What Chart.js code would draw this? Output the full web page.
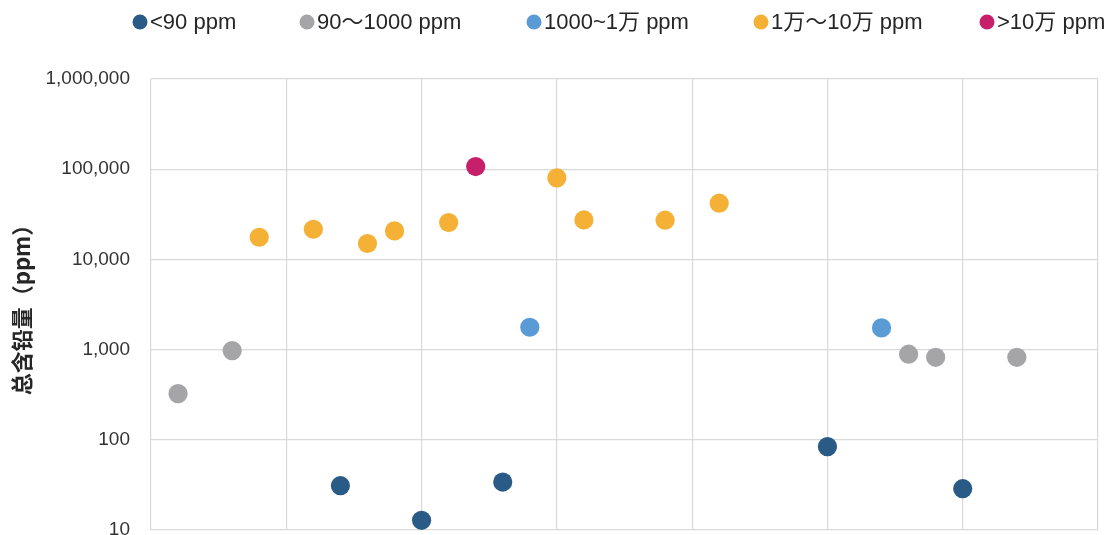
<!DOCTYPE html>
<html>
<head>
<meta charset="utf-8">
<title>总含铅量</title>
<script src="https://cdn.jsdelivr.net/npm/chart.js@4/dist/chart.umd.min.js"></script>
<style>
  html, body { margin: 0; padding: 0; background: #ffffff; }
  #wrap { width: 1111px; height: 535px; }
</style>
</head>
<body>
<div id="wrap"><canvas id="c" width="1111" height="535"></canvas></div>
<script>
// Sample numbers (x) and total lead content in ppm (y), grouped by concentration band
const seriesNames = ['<90 ppm', '90～1000 ppm', '1000~1万 ppm', '1万～10万 ppm', '>10万 ppm'];

const below90X = [7, 10, 13, 25, 30];
const below90Y = [31, 12.8, 34, 84, 28.7];

const from90X = [1, 3, 28, 29, 32];
const from90Y = [325, 975, 889, 822, 822];

const from1000X = [14, 27];
const from1000Y = [1770, 1740];

const from1wX = [4, 6, 8, 9, 11, 15, 16, 19, 21];
const from1wY = [17600, 21600, 15000, 20700, 25600, 80200, 27400, 27200, 42000];

const above10wX = [12];
const above10wY = [107000];

const yTickValues = [10, 100, 1000, 10000, 100000, 1000000];
const yTitle = '总含铅量（ppm）';

const seriesColors = ['#2a5a86', '#a5a5a8', '#5b9bd5', '#f4b135', '#c6206b'];

function toPoints(xs, ys) {
  return xs.map((x, i) => ({ x: x, y: ys[i] }));
}

const seriesX = [below90X, from90X, from1000X, from1wX, above10wX];
const seriesY = [below90Y, from90Y, from1000Y, from1wY, above10wY];

const datasets = seriesNames.map((name, i) => ({
  label: name,
  data: toPoints(seriesX[i], seriesY[i]),
  backgroundColor: seriesColors[i],
  borderWidth: 0,
  pointRadius: 9.6,
  pointHoverRadius: 9.6
}));

const LABEL_FONT = "'Liberation Sans', Arial, 'Noto Sans CJK SC', sans-serif";

// Legend row drawn across the top, left-anchored like the original layout
const topLegend = {
  id: 'topLegend',
  afterDraw(chart) {
    const ctx = chart.ctx;
    const itemX = [140, 307, 534, 761, 987];
    const cy = 22;
    ctx.save();
    ctx.font = '22px ' + LABEL_FONT;
    ctx.textBaseline = 'middle';
    ctx.textAlign = 'left';
    seriesNames.forEach((name, i) => {
      ctx.beginPath();
      ctx.arc(itemX[i], cy, 7.5, 0, Math.PI * 2);
      ctx.fillStyle = seriesColors[i];
      ctx.fill();
      ctx.fillStyle = '#262626';
      ctx.fillText(name, itemX[i] + 10, cy + 1);
    });
    ctx.restore();
  }
};

// Let the plot area run down to 5px above the canvas edge; the lowest tick label is cut off there
const plotBottom = {
  id: 'plotBottom',
  afterLayout(chart) {
    const target = chart.height - 5;
    const area = chart.chartArea;
    area.bottom = target;
    area.height = target - area.top;
    const y = chart.scales.y;
    y.bottom = target;
    y.height = target - y.top;
    y.configure();
    const x = chart.scales.x;
    x.top = target;
    x.bottom = target;
    x.configure();
  }
};

new Chart(document.getElementById('c'), {
  type: 'scatter',
  data: { datasets: datasets },
  plugins: [topLegend, plotBottom],
  options: {
    responsive: false,
    animation: false,
    layout: { padding: { top: 79, right: 13, bottom: 0, left: 0 } },
    plugins: {
      legend: { display: false },
      tooltip: { enabled: false }
    },
    scales: {
      x: {
        type: 'linear',
        min: 0,
        max: 35,
        ticks: { display: false, stepSize: 5 },
        grid: { color: '#d9d9d9', lineWidth: 1.2, drawTicks: false },
        border: { display: false }
      },
      y: {
        type: 'logarithmic',
        min: 10,
        max: 1000000,
        afterBuildTicks(scale) {
          scale.ticks = yTickValues.map(v => ({ value: v, major: true }));
        },
        afterFit(scale) {
          scale.width = 151;
        },
        ticks: {
          padding: 21,
          color: '#333333',
          font: { family: LABEL_FONT, size: 19 },
          callback: (v) => Number(v).toLocaleString('en-US')
        },
        grid: { color: '#d9d9d9', lineWidth: 1.2, drawTicks: false },
        border: { display: false },
        title: {
          display: true,
          text: yTitle,
          color: '#262626',
          font: { family: "'Noto Sans CJK SC', 'Liberation Sans', sans-serif", size: 22, weight: 'bold' },
          padding: { top: 8, bottom: 0 }
        }
      }
    }
  }
});
</script>
</body>
</html>
